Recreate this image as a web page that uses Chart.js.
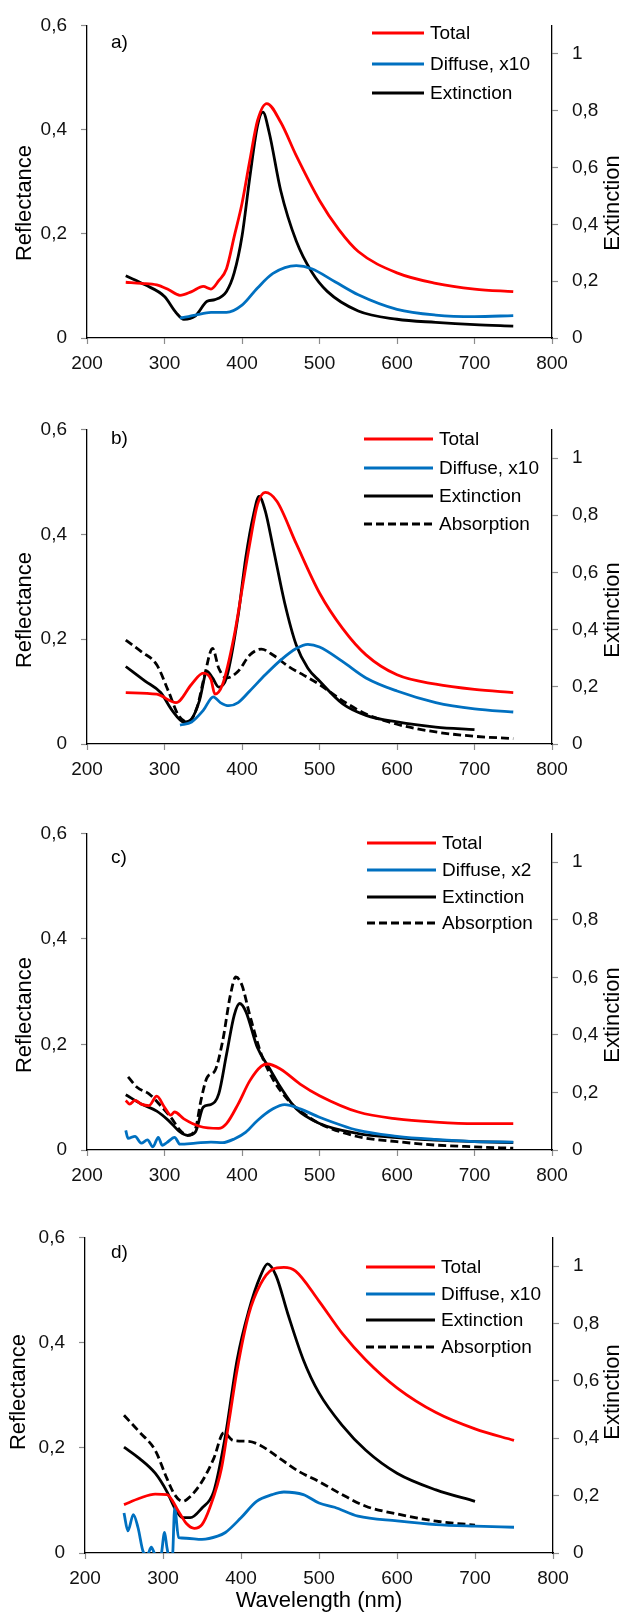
<!DOCTYPE html>
<html>
<head>
<meta charset="utf-8">
<script src="https://cdn.jsdelivr.net/npm/chart.js@4/dist/chart.umd.min.js"></script>
<style>
  body { margin: 0; background: #fff; }
  .panel { position: absolute; left: 0; width: 628px; }
</style>
</head>
<body>
<div class="panel" style="top:0px"><canvas id="pa" width="628" height="404"></canvas></div>
<div class="panel" style="top:404px"><canvas id="pb" width="628" height="404"></canvas></div>
<div class="panel" style="top:808px"><canvas id="pc" width="628" height="404"></canvas></div>
<div class="panel" style="top:1212px"><canvas id="pd" width="628" height="402"></canvas></div>
<script>
// a) 
const aTotalNm = [250, 270, 290, 305, 320, 335, 350, 360, 370, 380, 390, 400, 410, 420, 432, 450, 470, 500, 525, 550, 600, 650, 700, 750];
const aTotal = [0.107, 0.105, 0.102, 0.093, 0.082, 0.089, 0.099, 0.094, 0.110, 0.133, 0.195, 0.258, 0.340, 0.417, 0.450, 0.414, 0.350, 0.264, 0.208, 0.166, 0.125, 0.105, 0.094, 0.089];
const aDiffNm = [320, 340, 360, 380, 400, 420, 440, 470, 490, 520, 550, 600, 650, 700, 750];
const aDiff = [0.038, 0.044, 0.049, 0.049, 0.063, 0.096, 0.124, 0.139, 0.133, 0.108, 0.083, 0.055, 0.044, 0.041, 0.043];
const aExtNm = [250, 275, 300, 315, 325, 340, 355, 365, 380, 390, 400, 410, 420, 427, 435, 450, 470, 490, 510, 550, 600, 650, 700, 750];
const aExt = [0.219, 0.187, 0.146, 0.089, 0.066, 0.078, 0.129, 0.135, 0.164, 0.230, 0.358, 0.564, 0.747, 0.795, 0.724, 0.518, 0.341, 0.232, 0.164, 0.095, 0.066, 0.055, 0.047, 0.042];

// b)
const bTotalNm = [250, 290, 315, 335, 350, 360, 365, 375, 390, 400, 410, 420, 430, 445, 470, 500, 530, 560, 600, 650, 700, 750];
const bTotal = [0.098, 0.095, 0.079, 0.114, 0.135, 0.123, 0.095, 0.114, 0.207, 0.294, 0.382, 0.457, 0.480, 0.463, 0.382, 0.288, 0.220, 0.170, 0.132, 0.114, 0.104, 0.098];
const bDiffNm = [320, 335, 350, 363, 372, 383, 395, 410, 430, 450, 470, 485, 500, 530, 560, 600, 650, 700, 750];
const bDiff = [0.036, 0.042, 0.064, 0.090, 0.079, 0.073, 0.079, 0.101, 0.132, 0.160, 0.182, 0.190, 0.185, 0.157, 0.126, 0.101, 0.079, 0.067, 0.061];
const bExtNm = [250, 275, 295, 310, 325, 335, 345, 355, 362, 370, 380, 395, 405, 415, 422, 430, 440, 455, 470, 485, 500, 530, 560, 600, 650, 700];
const bExt = [0.271, 0.220, 0.180, 0.117, 0.077, 0.088, 0.151, 0.254, 0.231, 0.199, 0.231, 0.449, 0.654, 0.803, 0.866, 0.815, 0.689, 0.494, 0.346, 0.265, 0.220, 0.140, 0.100, 0.077, 0.059, 0.050];
const bAbsNm = [250, 270, 290, 305, 318, 330, 342, 352, 362, 370, 380, 395, 410, 425, 440, 460, 480, 500, 530, 560, 600, 650, 700, 750];
const bAbs = [0.363, 0.323, 0.277, 0.185, 0.100, 0.077, 0.128, 0.243, 0.334, 0.265, 0.231, 0.254, 0.311, 0.332, 0.311, 0.271, 0.240, 0.208, 0.151, 0.105, 0.069, 0.042, 0.027, 0.019];

// c)
const cTotalNm = [250, 255, 262, 270, 280, 290, 300, 308, 313, 325, 345, 370, 380, 395, 410, 425, 433, 450, 475, 500, 550, 600, 650, 700, 750];
const cTotal = [0.094, 0.087, 0.094, 0.087, 0.084, 0.102, 0.081, 0.066, 0.072, 0.059, 0.045, 0.041, 0.050, 0.087, 0.131, 0.159, 0.163, 0.153, 0.125, 0.103, 0.072, 0.059, 0.053, 0.050, 0.050];
const cDiffNm = [250, 253, 262, 270, 278, 285, 292, 297, 303, 313, 320, 340, 360, 375, 390, 405, 420, 440, 455, 475, 500, 550, 600, 650, 700, 750];
const cDiff = [0.037, 0.022, 0.026, 0.013, 0.019, 0.006, 0.024, 0.009, 0.014, 0.024, 0.011, 0.013, 0.015, 0.014, 0.021, 0.034, 0.056, 0.078, 0.086, 0.078, 0.062, 0.037, 0.026, 0.020, 0.016, 0.015];
const cExtNm = [250, 270, 290, 305, 320, 330, 340, 350, 360, 370, 380, 390, 397, 405, 420, 435, 450, 470, 500, 550, 600, 650, 700, 750];
const cExt = [0.192, 0.160, 0.135, 0.103, 0.063, 0.051, 0.063, 0.149, 0.158, 0.195, 0.332, 0.469, 0.509, 0.481, 0.355, 0.286, 0.217, 0.143, 0.092, 0.057, 0.043, 0.034, 0.029, 0.026];
const cAbsNm = [253, 265, 280, 295, 308, 320, 330, 340, 347, 355, 365, 375, 385, 392, 400, 410, 425, 440, 460, 480, 500, 550, 600, 650, 700, 750];
const cAbs = [0.254, 0.217, 0.195, 0.154, 0.114, 0.069, 0.051, 0.074, 0.172, 0.252, 0.275, 0.378, 0.538, 0.601, 0.572, 0.469, 0.332, 0.246, 0.172, 0.126, 0.092, 0.046, 0.029, 0.017, 0.011, 0.006];

// d)
const dTotalNm = [250, 270, 290, 305, 320, 330, 340, 350, 360, 375, 385, 395, 410, 425, 440, 455, 470, 500, 530, 560, 600, 650, 700, 750];
const dTotal = [0.092, 0.104, 0.112, 0.111, 0.079, 0.056, 0.047, 0.054, 0.086, 0.161, 0.254, 0.348, 0.454, 0.511, 0.539, 0.543, 0.536, 0.479, 0.417, 0.367, 0.314, 0.267, 0.236, 0.214];
const dDiffNm = [250, 255, 262, 268, 275, 280, 285, 290, 297, 302, 305, 308, 312, 315, 320, 330, 350, 370, 380, 400, 420, 440, 455, 480, 500, 520, 550, 600, 650, 700, 750];
const dDiff = [0.076, 0.042, 0.073, 0.048, 0.001, -0.003, 0.011, -0.003, -0.006, 0.039, 0.011, -0.008, -0.008, 0.086, 0.029, 0.028, 0.026, 0.032, 0.039, 0.067, 0.098, 0.111, 0.116, 0.111, 0.095, 0.087, 0.070, 0.061, 0.054, 0.051, 0.049];
const dExtNm = [250, 270, 290, 305, 315, 325, 335, 350, 365, 380, 395, 410, 425, 434, 445, 460, 480, 500, 530, 560, 600, 650, 700];
const dExt = [0.369, 0.329, 0.278, 0.214, 0.157, 0.123, 0.123, 0.157, 0.214, 0.409, 0.673, 0.845, 0.966, 1.008, 0.966, 0.834, 0.673, 0.558, 0.444, 0.358, 0.278, 0.220, 0.180];
const dAbsNm = [250, 270, 290, 305, 315, 325, 335, 350, 365, 378, 390, 410, 425, 450, 475, 500, 530, 560, 600, 650, 700];
const dAbs = [0.480, 0.421, 0.358, 0.260, 0.203, 0.180, 0.197, 0.249, 0.329, 0.419, 0.392, 0.389, 0.375, 0.329, 0.283, 0.249, 0.203, 0.163, 0.136, 0.111, 0.097];

const FONT = '"Liberation Sans", Arial, sans-serif';
const RED = "#ff0000";
const BLUE = "#0070c0";
const BLACK = "#000000";

function fmt(v) {
    return String(Math.round(v * 10) / 10).replace(".", ",");
}

function series(label, nm, vals, color, axis, dashed) {
    return {
        label: label,
        data: nm.map((x, i) => ({ x: x, y: vals[i] })),
        borderColor: color,
        backgroundColor: color,
        borderWidth: 2.8,
        borderDash: dashed ? [8, 4] : [],
        pointRadius: 0,
        yAxisID: axis,
        cubicInterpolationMode: "monotone",
        clip: { left: 4, right: 4, top: 4, bottom: 0 },
        fill: false,
    };
}

// panel label, legend and axis titles
const deco = {
    id: "deco",
    afterDraw(chart, args, o) {
        const ctx = chart.ctx;
        ctx.save();
        ctx.fillStyle = "#000";
        ctx.textBaseline = "middle";

        ctx.font = "19px " + FONT;
        ctx.textAlign = "left";
        ctx.fillText(o.tag, 111, o.tagY);

        ctx.font = "19px " + FONT;
        chart.data.datasets.forEach((ds, i) => {
            const y = o.legendY[i];
            ctx.beginPath();
            ctx.strokeStyle = ds.borderColor;
            ctx.lineWidth = 3;
            ctx.setLineDash(ds.borderDash || []);
            ctx.moveTo(o.legendX[0], y);
            ctx.lineTo(o.legendX[1], y);
            ctx.stroke();
            ctx.setLineDash([]);
            ctx.fillText(ds.label, o.legendX[2], y + 1);
        });

        ctx.font = "22px " + FONT;
        ctx.textAlign = "center";
        ctx.save();
        ctx.translate(o.leftTitleX, o.titleY);
        ctx.rotate(-Math.PI / 2);
        ctx.fillText("Reflectance", 0, 0);
        ctx.restore();
        ctx.save();
        ctx.translate(613, o.titleY);
        ctx.rotate(-Math.PI / 2);
        ctx.fillText("Extinction", 0, 0);
        ctx.restore();

        if (o.xTitle) {
            ctx.fillText("Wavelength (nm)", (chart.chartArea.left + chart.chartArea.right) / 2, o.xTitleY);
        }
        ctx.restore();
    },
};

function createPanel(canvasId, datasets, p) {
    const ctx = document.getElementById(canvasId).getContext("2d");
    const h = ctx.canvas.height;
    const tickFont = { family: FONT, size: 19 };
    const grid = { drawOnChartArea: false, drawTicks: true, tickLength: 6, tickColor: "#8c8c8c", tickWidth: 1.2 };
    const border = { display: true, color: "#000", width: 1.3 };
    new Chart(ctx, {
        type: "line",
        data: { datasets: datasets },
        plugins: [deco],
        options: {
            responsive: false,
            animation: false,
            events: [],
            layout: { padding: { top: p.top, left: 0, right: 0, bottom: 0 } },
            scales: {
                x: {
                    type: "linear",
                    min: 200,
                    max: 800,
                    ticks: { stepSize: 100, font: tickFont, color: "#111", padding: 8 },
                    grid: grid,
                    border: border,
                    afterFit: (s) => { s.height = h - p.bottom; },
                },
                y: {
                    position: "left",
                    min: 0,
                    max: 0.6,
                    ticks: { stepSize: 0.2, font: tickFont, color: "#111", padding: 14, callback: fmt },
                    grid: grid,
                    border: border,
                    afterFit: (s) => { s.width = p.left; },
                },
                y2: {
                    position: "right",
                    min: 0,
                    max: 1.1,
                    ticks: { stepSize: 0.2, includeBounds: false, font: tickFont, color: "#111", padding: 14, callback: fmt },
                    grid: grid,
                    border: border,
                    afterFit: (s) => { s.width = 628 - p.right; },
                },
            },
            plugins: {
                legend: { display: false },
                tooltip: { enabled: false },
                deco: p.deco,
            },
        },
    });
}

createPanel("pa", [
    series("Total", aTotalNm, aTotal, RED, "y"),
    series("Diffuse, x10", aDiffNm, aDiff, BLUE, "y"),
    series("Extinction", aExtNm, aExt, BLACK, "y2"),
], {
    top: 17, bottom: 338, left: 87, right: 552,
    deco: { tag: "a)", tagY: 43, legendX: [372, 424, 430], legendY: [33, 64, 93], leftTitleX: 25, titleY: 203 },
});

createPanel("pb", [
    series("Total", bTotalNm, bTotal, RED, "y"),
    series("Diffuse, x10", bDiffNm, bDiff, BLUE, "y"),
    series("Extinction", bExtNm, bExt, BLACK, "y2"),
    series("Absorption", bAbsNm, bAbs, BLACK, "y2", true),
], {
    top: 19, bottom: 340, left: 87, right: 552,
    deco: { tag: "b)", tagY: 35, legendX: [364, 433, 439], legendY: [35, 64, 92, 120], leftTitleX: 25, titleY: 206 },
});

createPanel("pc", [
    series("Total", cTotalNm, cTotal, RED, "y"),
    series("Diffuse, x2", cDiffNm, cDiff, BLUE, "y"),
    series("Extinction", cExtNm, cExt, BLACK, "y2"),
    series("Absorption", cAbsNm, cAbs, BLACK, "y2", true),
], {
    top: 21, bottom: 342, left: 87, right: 552,
    deco: { tag: "c)", tagY: 50, legendX: [367, 436, 442], legendY: [35, 62, 89, 115], leftTitleX: 25, titleY: 207 },
});

createPanel("pd", [
    series("Total", dTotalNm, dTotal, RED, "y"),
    series("Diffuse, x10", dDiffNm, dDiff, BLUE, "y"),
    series("Extinction", dExtNm, dExt, BLACK, "y2"),
    series("Absorption", dAbsNm, dAbs, BLACK, "y2", true),
], {
    top: 21, bottom: 341, left: 85, right: 553,
    deco: { tag: "d)", tagY: 41, legendX: [366, 435, 441], legendY: [55, 82, 108, 135], leftTitleX: 19, titleY: 180, xTitle: true, xTitleY: 389 },
});
</script>
</body>
</html>
